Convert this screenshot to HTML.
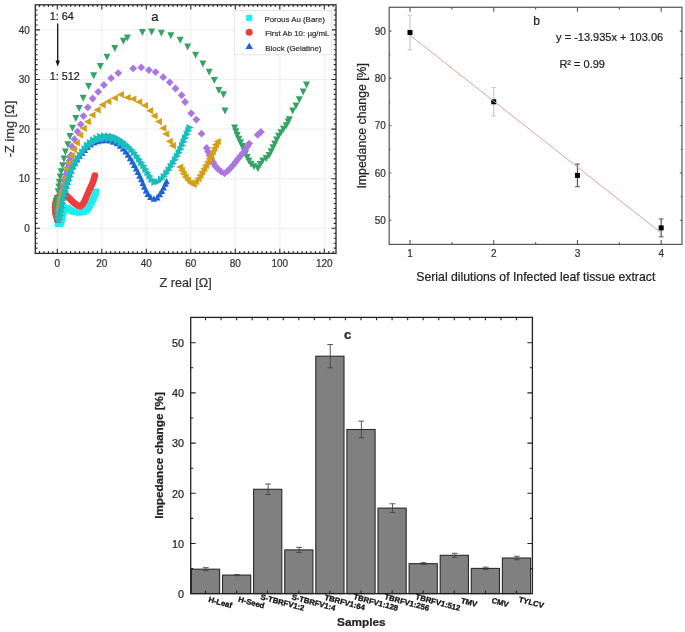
<!DOCTYPE html>
<html><head><meta charset="utf-8"><style>
html,body{margin:0;padding:0;background:#fff;}
body{width:685px;height:632px;overflow:hidden;}
svg{display:block;font-family:"Liberation Sans", sans-serif;filter:blur(0.5px);}
</style></head><body>
<svg width="685" height="632" viewBox="0 0 685 632">
<rect width="685" height="632" fill="#fff"/>
<line x1="57.3" y1="4.8" x2="57.3" y2="253.4" stroke="#ebebeb" stroke-width="0.8" />
<line x1="101.8" y1="4.8" x2="101.8" y2="253.4" stroke="#ebebeb" stroke-width="0.8" />
<line x1="146.3" y1="4.8" x2="146.3" y2="253.4" stroke="#ebebeb" stroke-width="0.8" />
<line x1="190.8" y1="4.8" x2="190.8" y2="253.4" stroke="#ebebeb" stroke-width="0.8" />
<line x1="235.3" y1="4.8" x2="235.3" y2="253.4" stroke="#ebebeb" stroke-width="0.8" />
<line x1="279.8" y1="4.8" x2="279.8" y2="253.4" stroke="#ebebeb" stroke-width="0.8" />
<line x1="324.3" y1="4.8" x2="324.3" y2="253.4" stroke="#ebebeb" stroke-width="0.8" />
<line x1="35.3" y1="228.3" x2="336" y2="228.3" stroke="#ebebeb" stroke-width="0.8" />
<line x1="35.3" y1="178.7" x2="336" y2="178.7" stroke="#ebebeb" stroke-width="0.8" />
<line x1="35.3" y1="129.1" x2="336" y2="129.1" stroke="#ebebeb" stroke-width="0.8" />
<line x1="35.3" y1="79.5" x2="336" y2="79.5" stroke="#ebebeb" stroke-width="0.8" />
<line x1="35.3" y1="29.9" x2="336" y2="29.9" stroke="#ebebeb" stroke-width="0.8" />
<g fill="#1ceeee"><rect x="54.7" y="220.9" width="6.2" height="6.2"/><rect x="57.2" y="220.9" width="6.2" height="6.2"/><rect x="58.13" y="218.95" width="6.2" height="6.2"/><rect x="58.66" y="216.5" width="6.2" height="6.2"/><rect x="59.23" y="214.07" width="6.2" height="6.2"/><rect x="59.84" y="211.64" width="6.2" height="6.2"/><rect x="60.47" y="209.23" width="6.2" height="6.2"/><rect x="61.4" y="206.91" width="6.2" height="6.2"/><rect x="62.33" y="204.58" width="6.2" height="6.2"/><rect x="64.58" y="205.13" width="6.2" height="6.2"/><rect x="66.66" y="206.45" width="6.2" height="6.2"/><rect x="68.62" y="207.98" width="6.2" height="6.2"/><rect x="70.99" y="208.79" width="6.2" height="6.2"/><rect x="73.43" y="209.22" width="6.2" height="6.2"/><rect x="75.92" y="209.42" width="6.2" height="6.2"/><rect x="78.39" y="209.2" width="6.2" height="6.2"/><rect x="80.84" y="208.71" width="6.2" height="6.2"/><rect x="82.92" y="207.51" width="6.2" height="6.2"/><rect x="84.71" y="205.77" width="6.2" height="6.2"/><rect x="86.1" y="203.72" width="6.2" height="6.2"/><rect x="87.34" y="201.55" width="6.2" height="6.2"/><rect x="88.55" y="199.36" width="6.2" height="6.2"/><rect x="89.59" y="197.09" width="6.2" height="6.2"/><rect x="90.62" y="194.81" width="6.2" height="6.2"/><rect x="91.61" y="192.51" width="6.2" height="6.2"/><rect x="92.54" y="190.2" width="6.2" height="6.2"/><rect x="92.9" y="188.5" width="6.2" height="6.2"/></g>
<g fill="#ec3d3d"><circle cx="57.2" cy="219.5" r="3.3"/><circle cx="56.5" cy="217.1" r="3.3"/><circle cx="55.8" cy="214.7" r="3.3"/><circle cx="55.27" cy="212.27" r="3.3"/><circle cx="55.16" cy="209.77" r="3.3"/><circle cx="55.05" cy="207.28" r="3.3"/><circle cx="55.24" cy="204.8" r="3.3"/><circle cx="55.73" cy="202.35" r="3.3"/><circle cx="56.26" cy="199.92" r="3.3"/><circle cx="57.77" cy="197.92" r="3.3"/><circle cx="59.44" cy="196.16" r="3.3"/><circle cx="61.82" cy="195.38" r="3.3"/><circle cx="64.22" cy="195.3" r="3.3"/><circle cx="66.64" cy="195.91" r="3.3"/><circle cx="68.51" cy="197.51" r="3.3"/><circle cx="70.28" cy="199.28" r="3.3"/><circle cx="72.04" cy="201.04" r="3.3"/><circle cx="73.81" cy="202.81" r="3.3"/><circle cx="75.79" cy="204.33" r="3.3"/><circle cx="77.87" cy="205.67" r="3.3"/><circle cx="80.32" cy="206.16" r="3.3"/><circle cx="82.34" cy="204.8" r="3.3"/><circle cx="83.78" cy="202.82" r="3.3"/><circle cx="84.94" cy="200.61" r="3.3"/><circle cx="85.88" cy="198.29" r="3.3"/><circle cx="86.81" cy="195.97" r="3.3"/><circle cx="87.81" cy="193.68" r="3.3"/><circle cx="88.81" cy="191.39" r="3.3"/><circle cx="89.85" cy="189.11" r="3.3"/><circle cx="90.91" cy="186.85" r="3.3"/><circle cx="91.91" cy="184.56" r="3.3"/><circle cx="92.83" cy="182.23" r="3.3"/><circle cx="93.66" cy="179.88" r="3.3"/><circle cx="94.34" cy="177.47" r="3.3"/><circle cx="94.9" cy="175.5" r="3.3"/></g>
<g fill="#1f62d8"><path d="M57.8 216L61.1 222.6L54.5 222.6Z"/><path d="M58.61 212.08L61.91 218.68L55.31 218.68Z"/><path d="M59.4 208.16L62.7 214.76L56.1 214.76Z"/><path d="M60.11 204.22L63.41 210.82L56.81 210.82Z"/><path d="M60.81 200.29L64.11 206.89L57.51 206.89Z"/><path d="M61.6 196.37L64.9 202.97L58.3 202.97Z"/><path d="M62.43 192.45L65.73 199.05L59.13 199.05Z"/><path d="M63.5 188.61L66.8 195.21L60.2 195.21Z"/><path d="M64.73 184.8L68.03 191.4L61.43 191.4Z"/><path d="M65.89 180.97L69.19 187.57L62.59 187.57Z"/><path d="M67.05 177.14L70.35 183.74L63.75 183.74Z"/><path d="M68.2 173.31L71.5 179.91L64.9 179.91Z"/><path d="M69.36 169.48L72.66 176.08L66.06 176.08Z"/><path d="M70.53 165.66L73.83 172.26L67.23 172.26Z"/><path d="M72.69 162.3L75.99 168.9L69.39 168.9Z"/><path d="M74.88 158.95L78.18 165.55L71.58 165.55Z"/><path d="M77.15 155.66L80.45 162.26L73.85 162.26Z"/><path d="M79.54 152.45L82.84 159.05L76.24 159.05Z"/><path d="M82.1 149.38L85.4 155.98L78.8 155.98Z"/><path d="M84.76 146.4L88.06 153L81.46 153Z"/><path d="M87.54 143.52L90.84 150.12L84.24 150.12Z"/><path d="M90.6 140.99L93.9 147.59L87.3 147.59Z"/><path d="M93.98 138.85L97.28 145.45L90.68 145.45Z"/><path d="M97.73 137.61L101.03 144.21L94.43 144.21Z"/><path d="M101.65 136.82L104.95 143.42L98.35 143.42Z"/><path d="M105.62 136.35L108.92 142.95L102.32 142.95Z"/><path d="M109.57 136.88L112.87 143.48L106.27 143.48Z"/><path d="M113.36 138.05L116.66 144.65L110.06 144.65Z"/><path d="M117 139.7L120.3 146.3L113.7 146.3Z"/><path d="M120.16 142.16L123.46 148.76L116.86 148.76Z"/><path d="M123.03 144.92L126.33 151.52L119.73 151.52Z"/><path d="M125.66 147.93L128.96 154.53L122.36 154.53Z"/><path d="M127.95 151.21L131.25 157.81L124.65 157.81Z"/><path d="M130.17 154.54L133.47 161.14L126.87 161.14Z"/><path d="M132.32 157.91L135.62 164.51L129.02 164.51Z"/><path d="M134.25 161.41L137.55 168.01L130.95 168.01Z"/><path d="M136.12 164.94L139.42 171.54L132.82 171.54Z"/><path d="M137.91 168.52L141.21 175.12L134.61 175.12Z"/><path d="M139.62 172.14L142.92 178.74L136.32 178.74Z"/><path d="M141.3 175.77L144.6 182.37L138 182.37Z"/><path d="M142.81 179.47L146.11 186.07L139.51 186.07Z"/><path d="M144.29 183.19L147.59 189.79L140.99 189.79Z"/><path d="M146.04 186.78L149.34 193.38L142.74 193.38Z"/><path d="M147.83 190.36L151.13 196.96L144.53 196.96Z"/><path d="M150.45 193.36L153.75 199.96L147.15 199.96Z"/><path d="M153.86 195.17L157.16 201.77L150.56 201.77Z"/><path d="M157.23 193.79L160.53 200.39L153.93 200.39Z"/><path d="M159.76 190.73L163.06 197.33L156.46 197.33Z"/><path d="M161.86 187.33L165.16 193.93L158.56 193.93Z"/><path d="M163.75 183.81L167.05 190.41L160.45 190.41Z"/><path d="M165.44 180.18L168.74 186.78L162.14 186.78Z"/><path d="M166.5 177.7L169.8 184.3L163.2 184.3Z"/></g>
<g fill="#34a464"><path d="M53.8 216L60.8 216L57.3 223Z"/><path d="M53.46 213.02L60.46 213.02L56.96 220.02Z"/><path d="M53.13 210.04L60.13 210.04L56.63 217.04Z"/><path d="M52.9 207.05L59.9 207.05L56.4 214.05Z"/><path d="M52.9 204.05L59.9 204.05L56.4 211.05Z"/><path d="M52.9 201.05L59.9 201.05L56.4 208.05Z"/><path d="M53.19 198.07L60.19 198.07L56.69 205.07Z"/><path d="M53.63 195.11L60.63 195.11L57.13 202.11Z"/><path d="M54.6 188.3L61.6 188.3L58.1 195.3Z"/><path d="M55.3 183.5L62.3 183.5L58.8 190.5Z"/><path d="M55.9 178.8L62.9 178.8L59.4 185.8Z"/><path d="M56.7 173.6L63.7 173.6L60.2 180.6Z"/><path d="M57.6 168.3L64.6 168.3L61.1 175.3Z"/><path d="M59.1 162.2L66.1 162.2L62.6 169.2Z"/><path d="M60.5 155.5L67.5 155.5L64 162.5Z"/><path d="M61.9 148.4L68.9 148.4L65.4 155.4Z"/><path d="M64.3 141.3L71.3 141.3L67.8 148.3Z"/><path d="M66.4 133L73.4 133L69.9 140Z"/><path d="M69 124.8L76 124.8L72.5 131.8Z"/><path d="M72.3 115.1L79.3 115.1L75.8 122.1Z"/><path d="M75.6 104.9L82.6 104.9L79.1 111.9Z"/><path d="M79.7 94.7L86.7 94.7L83.2 101.7Z"/><path d="M85.1 83L92.1 83L88.6 90Z"/><path d="M90.2 72.2L97.2 72.2L93.7 79.2Z"/><path d="M96.8 63L103.8 63L100.3 70Z"/><path d="M103.5 53.8L110.5 53.8L107 60.8Z"/><path d="M111.3 45L118.3 45L114.8 52Z"/><path d="M119.9 37.8L126.9 37.8L123.4 44.8Z"/><path d="M123.9 34.4L130.9 34.4L127.4 41.4Z"/><path d="M138.9 29L145.9 29L142.4 36Z"/><path d="M148.1 28.5L155.1 28.5L151.6 35.5Z"/><path d="M157.9 29.7L164.9 29.7L161.4 36.7Z"/><path d="M167.3 32.3L174.3 32.3L170.8 39.3Z"/><path d="M176.7 36.8L183.7 36.8L180.2 43.8Z"/><path d="M184.2 43.6L191.2 43.6L187.7 50.6Z"/><path d="M192.1 51.7L199.1 51.7L195.6 58.7Z"/><path d="M199.4 60.5L206.4 60.5L202.9 67.5Z"/><path d="M205.7 68.7L212.7 68.7L209.2 75.7Z"/><path d="M210.8 76.9L217.8 76.9L214.3 83.9Z"/><path d="M215.3 87.1L222.3 87.1L218.8 94.1Z"/><path d="M220 91.2L227 91.2L223.5 98.2Z"/><path d="M221.5 107.5L228.5 107.5L225 114.5Z"/><path d="M231.1 124.5L238.1 124.5L234.6 131.5Z"/><path d="M232.36 128.29L239.36 128.29L235.86 135.29Z"/><path d="M233.72 132.05L240.72 132.05L237.22 139.05Z"/><path d="M235.33 135.72L242.33 135.72L238.83 142.72Z"/><path d="M237.02 139.34L244.02 139.34L240.52 146.34Z"/><path d="M238.81 142.92L245.81 142.92L242.31 149.92Z"/><path d="M240.4 146.59L247.4 146.59L243.9 153.59Z"/><path d="M241.95 150.27L248.95 150.27L245.45 157.27Z"/><path d="M243.6 153.92L250.6 153.92L247.1 160.92Z"/><path d="M245.37 157.5L252.37 157.5L248.87 164.5Z"/><path d="M247.59 160.76L254.59 160.76L251.09 167.76Z"/><path d="M250.57 163.36L257.57 163.36L254.07 170.36Z"/><path d="M254.36 164.65L261.36 164.65L257.86 171.65Z"/><path d="M254.5 164.7L261.5 164.7L258 171.7Z"/><path d="M256.77 161.05L263.77 161.05L260.27 168.05Z"/><path d="M259.19 157.53L266.19 157.53L262.69 164.53Z"/><path d="M262.72 155.08L269.72 155.08L266.22 162.08Z"/><path d="M265.57 152.03L272.57 152.03L269.07 159.03Z"/><path d="M267.56 148.22L274.56 148.22L271.06 155.22Z"/><path d="M269.44 144.35L276.44 144.35L272.94 151.35Z"/><path d="M271.27 140.46L278.27 140.46L274.77 147.46Z"/><path d="M273.12 136.58L280.12 136.58L276.62 143.58Z"/><path d="M275.14 132.79L282.14 132.79L278.64 139.79Z"/><path d="M277.42 129.14L284.42 129.14L280.92 136.14Z"/><path d="M279.93 125.66L286.93 125.66L283.43 132.66Z"/><path d="M282.66 122.34L289.66 122.34L286.16 129.34Z"/><path d="M284.71 118.58L291.71 118.58L288.21 125.58Z"/><path d="M285.9 116.2L292.9 116.2L289.4 123.2Z"/><path d="M289.2 107.4L296.2 107.4L292.7 114.4Z"/><path d="M292.5 102.4L299.5 102.4L296 109.4Z"/><path d="M295.8 96.3L302.8 96.3L299.3 103.3Z"/><path d="M299.7 88.6L306.7 88.6L303.2 95.6Z"/><path d="M303 81.4L310 81.4L306.5 88.4Z"/></g>
<g fill="#ab76e2"><path d="M58.4 215.1L62.3 219L58.4 222.9L54.5 219Z"/><path d="M58.65 211.61L62.55 215.51L58.65 219.41L54.75 215.51Z"/><path d="M58.9 208.12L62.8 212.02L58.9 215.92L55 212.02Z"/><path d="M59.29 204.64L63.19 208.54L59.29 212.44L55.39 208.54Z"/><path d="M59.68 201.16L63.58 205.06L59.68 208.96L55.78 205.06Z"/><path d="M60.21 197.7L64.11 201.6L60.21 205.5L56.31 201.6Z"/><path d="M60.8 194.25L64.7 198.15L60.8 202.05L56.9 198.15Z"/><path d="M61.46 190.82L65.36 194.72L61.46 198.62L57.56 194.72Z"/><path d="M62.14 187.38L66.04 191.28L62.14 195.18L58.24 191.28Z"/><path d="M62.95 183.98L66.85 187.88L62.95 191.78L59.05 187.88Z"/><path d="M63.78 180.58L67.68 184.48L63.78 188.38L59.88 184.48Z"/><path d="M64.61 177.18L68.51 181.08L64.61 184.98L60.71 181.08Z"/><path d="M65.44 173.78L69.34 177.68L65.44 181.58L61.54 177.68Z"/><path d="M66.22 170.37L70.12 174.27L66.22 178.17L62.32 174.27Z"/><path d="M66.99 166.95L70.89 170.85L66.99 174.75L63.09 170.85Z"/><path d="M67.81 163.55L71.71 167.45L67.81 171.35L63.91 167.45Z"/><path d="M68.66 160.15L72.56 164.05L68.66 167.95L64.76 164.05Z"/><path d="M69.52 156.76L73.42 160.66L69.52 164.56L65.62 160.66Z"/><path d="M70.38 153.37L74.28 157.27L70.38 161.17L66.48 157.27Z"/><path d="M70.9 151.3L74.8 155.2L70.9 159.1L67 155.2Z"/><path d="M71.9 142.5L75.8 146.4L71.9 150.3L68 146.4Z"/><path d="M74.4 135.3L78.3 139.2L74.4 143.1L70.5 139.2Z"/><path d="M77.5 127.7L81.4 131.6L77.5 135.5L73.6 131.6Z"/><path d="M80.7 120.4L84.6 124.3L80.7 128.2L76.8 124.3Z"/><path d="M83.5 112.2L87.4 116.1L83.5 120L79.6 116.1Z"/><path d="M87.8 103.5L91.7 107.4L87.8 111.3L83.9 107.4Z"/><path d="M92.7 94.6L96.6 98.5L92.7 102.4L88.8 98.5Z"/><path d="M98.2 87.9L102.1 91.8L98.2 95.7L94.3 91.8Z"/><path d="M103.9 81.1L107.8 85L103.9 88.9L100 85Z"/><path d="M111.1 74.3L115 78.2L111.1 82.1L107.2 78.2Z"/><path d="M118.2 69.2L122.1 73.1L118.2 77L114.3 73.1Z"/><path d="M133.2 64.5L137.1 68.4L133.2 72.3L129.3 68.4Z"/><path d="M141.3 63.5L145.2 67.4L141.3 71.3L137.4 67.4Z"/><path d="M148.9 66.2L152.8 70.1L148.9 74L145 70.1Z"/><path d="M155.6 68.2L159.5 72.1L155.6 76L151.7 72.1Z"/><path d="M163.2 73.3L167.1 77.2L163.2 81.1L159.3 77.2Z"/><path d="M169.7 78.4L173.6 82.3L169.7 86.2L165.8 82.3Z"/><path d="M175.5 84.6L179.4 88.5L175.5 92.4L171.6 88.5Z"/><path d="M181.6 91.3L185.5 95.2L181.6 99.1L177.7 95.2Z"/><path d="M185.1 98.1L189 102L185.1 105.9L181.2 102Z"/><path d="M191.2 109.4L195.1 113.3L191.2 117.2L187.3 113.3Z"/><path d="M196.3 115.7L200.2 119.6L196.3 123.5L192.4 119.6Z"/><path d="M201.5 129.8L205.4 133.7L201.5 137.6L197.6 133.7Z"/><path d="M206.6 144.1L210.5 148L206.6 151.9L202.7 148Z"/><path d="M208.14 147.79L212.04 151.69L208.14 155.59L204.24 151.69Z"/><path d="M209.67 151.49L213.57 155.39L209.67 159.29L205.77 155.39Z"/><path d="M211.32 155.13L215.22 159.03L211.32 162.93L207.42 159.03Z"/><path d="M213.28 158.61L217.18 162.51L213.28 166.41L209.38 162.51Z"/><path d="M215.24 162.1L219.14 166L215.24 169.9L211.34 166Z"/><path d="M217.94 164.99L221.84 168.89L217.94 172.79L214.04 168.89Z"/><path d="M220.95 167.62L224.85 171.52L220.95 175.42L217.05 171.52Z"/><path d="M224.51 169.45L228.41 173.35L224.51 177.25L220.61 173.35Z"/><path d="M227.44 167.26L231.34 171.16L227.44 175.06L223.54 171.16Z"/><path d="M230.26 164.44L234.16 168.34L230.26 172.24L226.36 168.34Z"/><path d="M232.93 161.46L236.83 165.36L232.93 169.26L229.03 165.36Z"/><path d="M235.41 158.33L239.31 162.23L235.41 166.13L231.51 162.23Z"/><path d="M237.91 155.2L241.81 159.1L237.91 163L234.01 159.1Z"/><path d="M240.42 152.09L244.32 155.99L240.42 159.89L236.52 155.99Z"/><path d="M242.93 148.98L246.83 152.88L242.93 156.78L239.03 152.88Z"/><path d="M245.21 145.69L249.11 149.59L245.21 153.49L241.31 149.59Z"/><path d="M247.43 142.36L251.33 146.26L247.43 150.16L243.53 146.26Z"/><path d="M249.2 139.7L253.1 143.6L249.2 147.5L245.3 143.6Z"/><path d="M257.7 130.9L261.6 134.8L257.7 138.7L253.8 134.8Z"/><path d="M260.9 128L264.8 131.9L260.9 135.8L257 131.9Z"/></g>
<g fill="#d49e17"><path d="M61.8 215.4L61.8 222.6L54.6 219Z"/><path d="M61.94 212.2L61.94 219.4L54.74 215.8Z"/><path d="M62.07 209.01L62.07 216.21L54.87 212.61Z"/><path d="M62.33 205.82L62.33 213.02L55.13 209.42Z"/><path d="M62.61 202.63L62.61 209.83L55.41 206.23Z"/><path d="M62.95 199.45L62.95 206.65L55.75 203.05Z"/><path d="M63.45 196.29L63.45 203.49L56.25 199.89Z"/><path d="M63.96 193.13L63.96 200.33L56.76 196.73Z"/><path d="M64.63 190L64.63 197.2L57.43 193.6Z"/><path d="M65.3 186.9L65.3 194.1L58.1 190.5Z"/><path d="M66.8 180.4L66.8 187.6L59.6 184Z"/><path d="M68.5 174.4L68.5 181.6L61.3 178Z"/><path d="M70.4 165.8L70.4 173L63.2 169.4Z"/><path d="M72.3 159.2L72.3 166.4L65.1 162.8Z"/><path d="M74.7 152.1L74.7 159.3L67.5 155.7Z"/><path d="M77.1 145.9L77.1 153.1L69.9 149.5Z"/><path d="M79.9 139.2L79.9 146.4L72.7 142.8Z"/><path d="M83.2 131.4L83.2 138.6L76 135Z"/><path d="M86.8 124.7L86.8 131.9L79.6 128.3Z"/><path d="M90.9 118.1L90.9 125.3L83.7 121.7Z"/><path d="M95.5 111.4L95.5 118.6L88.3 115Z"/><path d="M100.6 106.3L100.6 113.5L93.4 109.9Z"/><path d="M105.8 101.2L105.8 108.4L98.6 104.8Z"/><path d="M111.4 97.9L111.4 105.1L104.2 101.5Z"/><path d="M117.9 94.4L117.9 101.6L110.7 98Z"/><path d="M124 91L124 98.2L116.8 94.6Z"/><path d="M130.6 93.9L130.6 101.1L123.4 97.5Z"/><path d="M136.4 95.4L136.4 102.6L129.2 99Z"/><path d="M142.3 98.3L142.3 105.5L135.1 101.9Z"/><path d="M148.1 101.9L148.1 109.1L140.9 105.5Z"/><path d="M153.2 107.1L153.2 114.3L146 110.7Z"/><path d="M157.6 112.2L157.6 119.4L150.4 115.8Z"/><path d="M162 118L162 125.2L154.8 121.6Z"/><path d="M166.4 124.6L166.4 131.8L159.2 128.2Z"/><path d="M169.3 130.4L169.3 137.6L162.1 134Z"/><path d="M172.9 137.7L172.9 144.9L165.7 141.3Z"/><path d="M175.9 142.1L175.9 149.3L168.7 145.7Z"/><path d="M183.3 163.4L183.3 170.6L176.1 167Z"/><path d="M185.03 166.78L185.03 173.98L177.83 170.38Z"/><path d="M186.76 170.17L186.76 177.37L179.56 173.77Z"/><path d="M188.73 173.39L188.73 180.59L181.53 176.99Z"/><path d="M191.07 176.39L191.07 183.59L183.87 179.99Z"/><path d="M193.63 179.15L193.63 186.35L186.43 182.75Z"/><path d="M196.75 180.91L196.75 188.11L189.55 184.51Z"/><path d="M199.15 177.96L199.15 185.16L191.95 181.56Z"/><path d="M201.54 175L201.54 182.2L194.34 178.6Z"/><path d="M203.46 171.73L203.46 178.93L196.26 175.33Z"/><path d="M205.35 168.43L205.35 175.63L198.15 172.03Z"/><path d="M207.23 165.13L207.23 172.33L200.03 168.73Z"/><path d="M209.09 161.82L209.09 169.02L201.89 165.42Z"/><path d="M210.95 158.5L210.95 165.7L203.75 162.1Z"/><path d="M212.66 155.11L212.66 162.31L205.46 158.71Z"/><path d="M214.25 151.66L214.25 158.86L207.05 155.26Z"/><path d="M215.82 148.2L215.82 155.4L208.62 151.8Z"/><path d="M217.38 144.73L217.38 151.93L210.18 148.33Z"/><path d="M218.93 141.27L218.93 148.47L211.73 144.87Z"/><path d="M220.83 137.97L220.83 145.17L213.63 141.57Z"/></g>
<g fill="#1abdbd"><path d="M55.95 215.65L63.25 219.3L55.95 222.95Z"/><path d="M56.96 211.78L64.26 215.43L56.96 219.08Z"/><path d="M57.93 207.9L65.23 211.55L57.93 215.2Z"/><path d="M58.64 203.96L65.94 207.61L58.64 211.26Z"/><path d="M59.35 200.03L66.65 203.68L59.35 207.33Z"/><path d="M60.13 196.1L67.43 199.75L60.13 203.4Z"/><path d="M60.96 192.19L68.26 195.84L60.96 199.49Z"/><path d="M62.02 188.34L69.32 191.99L62.02 195.64Z"/><path d="M63.26 184.54L70.56 188.19L63.26 191.84Z"/><path d="M64.42 180.71L71.72 184.36L64.42 188.01Z"/><path d="M65.59 176.88L72.89 180.53L65.59 184.18Z"/><path d="M66.8 173.07L74.1 176.72L66.8 180.37Z"/><path d="M68.01 169.26L75.31 172.91L68.01 176.56Z"/><path d="M69.22 165.45L76.52 169.1L69.22 172.75Z"/><path d="M70.95 161.84L78.25 165.49L70.95 169.14Z"/><path d="M72.71 158.25L80.01 161.9L72.71 165.55Z"/><path d="M74.76 154.82L82.06 158.47L74.76 162.12Z"/><path d="M76.87 151.42L84.17 155.07L76.87 158.72Z"/><path d="M79.2 148.17L86.5 151.82L79.2 155.47Z"/><path d="M81.58 144.96L88.88 148.61L81.58 152.26Z"/><path d="M84.11 141.86L91.41 145.51L84.11 149.16Z"/><path d="M86.75 138.88L94.05 142.53L86.75 146.18Z"/><path d="M89.9 136.4L97.2 140.05L89.9 143.7Z"/><path d="M93.35 134.42L100.65 138.07L93.35 141.72Z"/><path d="M97 132.85L104.3 136.5L97 140.15Z"/><path d="M100.95 132.21L108.25 135.86L100.95 139.51Z"/><path d="M104.94 132.15L112.24 135.8L104.94 139.45Z"/><path d="M108.88 132.7L116.18 136.35L108.88 140Z"/><path d="M112.69 133.82L119.99 137.47L112.69 141.12Z"/><path d="M116.18 135.78L123.48 139.43L116.18 143.08Z"/><path d="M119.43 138.1L126.73 141.75L119.43 145.4Z"/><path d="M122.52 140.64L129.82 144.29L122.52 147.94Z"/><path d="M125.44 143.37L132.74 147.02L125.44 150.67Z"/><path d="M128.26 146.2L135.56 149.85L128.26 153.5Z"/><path d="M130.88 149.22L138.18 152.87L130.88 156.52Z"/><path d="M133.5 152.24L140.8 155.89L133.5 159.54Z"/><path d="M135.78 155.53L143.08 159.18L135.78 162.83Z"/><path d="M138.01 158.85L145.31 162.5L138.01 166.15Z"/><path d="M140.19 162.2L147.49 165.85L140.19 169.5Z"/><path d="M142.31 165.59L149.61 169.24L142.31 172.89Z"/><path d="M144.42 168.99L151.72 172.64L144.42 176.29Z"/><path d="M146.43 172.44L153.73 176.09L146.43 179.74Z"/><path d="M148.43 175.91L155.73 179.56L148.43 183.21Z"/><path d="M151.26 178.61L158.56 182.26L151.26 185.91Z"/><path d="M154.88 178.03L162.18 181.68L154.88 185.33Z"/><path d="M157.98 175.55L165.28 179.2L157.98 182.85Z"/><path d="M160.7 172.63L168 176.28L160.7 179.93Z"/><path d="M163.17 169.49L170.47 173.14L163.17 176.79Z"/><path d="M165.53 166.26L172.83 169.91L165.53 173.56Z"/><path d="M167.65 162.87L174.95 166.52L167.65 170.17Z"/><path d="M169.77 159.48L177.07 163.13L169.77 166.78Z"/><path d="M171.76 156.01L179.06 159.66L171.76 163.31Z"/><path d="M173.75 152.54L181.05 156.19L173.75 159.84Z"/><path d="M175.57 148.98L182.87 152.63L175.57 156.28Z"/><path d="M177.34 145.39L184.64 149.04L177.34 152.69Z"/><path d="M178.99 141.75L186.29 145.4L178.99 149.05Z"/><path d="M180.47 138.04L187.77 141.69L180.47 145.34Z"/><path d="M182.03 134.36L189.33 138.01L182.03 141.66Z"/><path d="M183.68 130.71L190.98 134.36L183.68 138.01Z"/><path d="M185.16 127L192.46 130.65L185.16 134.3Z"/><path d="M186.35 123.95L193.65 127.6L186.35 131.25Z"/><path d="M84.35 142.35L91.65 146L84.35 149.65Z"/><path d="M88.04 139.77L95.34 143.42L88.04 147.07Z"/><path d="M91.99 137.66L99.29 141.31L91.99 144.96Z"/><path d="M96.15 135.99L103.45 139.64L96.15 143.29Z"/><path d="M100.56 135.11L107.86 138.76L100.56 142.41Z"/><path d="M105.05 135.07L112.35 138.72L105.05 142.37Z"/><path d="M109.47 135.73L116.77 139.38L109.47 143.03Z"/><path d="M113.7 137.16L121 140.81L113.7 144.46Z"/><path d="M117.54 139.5L124.84 143.15L117.54 146.8Z"/><path d="M121.06 142.32L128.36 145.97L121.06 149.62Z"/></g>
<rect x="35.3" y="4.8" width="300.7" height="248.6" fill="none" stroke="#2a2a2a" stroke-width="1.3"/>
<path d="M39.5 253.4v-2.3M39.5 4.8v2.3M43.95 253.4v-2.3M43.95 4.8v2.3M48.4 253.4v-2.3M48.4 4.8v2.3M52.85 253.4v-2.3M52.85 4.8v2.3M57.3 253.4v-4.6M57.3 4.8v4.6M61.75 253.4v-2.3M61.75 4.8v2.3M66.2 253.4v-2.3M66.2 4.8v2.3M70.65 253.4v-2.3M70.65 4.8v2.3M75.1 253.4v-2.3M75.1 4.8v2.3M79.55 253.4v-2.3M79.55 4.8v2.3M84 253.4v-2.3M84 4.8v2.3M88.45 253.4v-2.3M88.45 4.8v2.3M92.9 253.4v-2.3M92.9 4.8v2.3M97.35 253.4v-2.3M97.35 4.8v2.3M101.8 253.4v-4.6M101.8 4.8v4.6M106.25 253.4v-2.3M106.25 4.8v2.3M110.7 253.4v-2.3M110.7 4.8v2.3M115.15 253.4v-2.3M115.15 4.8v2.3M119.6 253.4v-2.3M119.6 4.8v2.3M124.05 253.4v-2.3M124.05 4.8v2.3M128.5 253.4v-2.3M128.5 4.8v2.3M132.95 253.4v-2.3M132.95 4.8v2.3M137.4 253.4v-2.3M137.4 4.8v2.3M141.85 253.4v-2.3M141.85 4.8v2.3M146.3 253.4v-4.6M146.3 4.8v4.6M150.75 253.4v-2.3M150.75 4.8v2.3M155.2 253.4v-2.3M155.2 4.8v2.3M159.65 253.4v-2.3M159.65 4.8v2.3M164.1 253.4v-2.3M164.1 4.8v2.3M168.55 253.4v-2.3M168.55 4.8v2.3M173 253.4v-2.3M173 4.8v2.3M177.45 253.4v-2.3M177.45 4.8v2.3M181.9 253.4v-2.3M181.9 4.8v2.3M186.35 253.4v-2.3M186.35 4.8v2.3M190.8 253.4v-4.6M190.8 4.8v4.6M195.25 253.4v-2.3M195.25 4.8v2.3M199.7 253.4v-2.3M199.7 4.8v2.3M204.15 253.4v-2.3M204.15 4.8v2.3M208.6 253.4v-2.3M208.6 4.8v2.3M213.05 253.4v-2.3M213.05 4.8v2.3M217.5 253.4v-2.3M217.5 4.8v2.3M221.95 253.4v-2.3M221.95 4.8v2.3M226.4 253.4v-2.3M226.4 4.8v2.3M230.85 253.4v-2.3M230.85 4.8v2.3M235.3 253.4v-4.6M235.3 4.8v4.6M239.75 253.4v-2.3M239.75 4.8v2.3M244.2 253.4v-2.3M244.2 4.8v2.3M248.65 253.4v-2.3M248.65 4.8v2.3M253.1 253.4v-2.3M253.1 4.8v2.3M257.55 253.4v-2.3M257.55 4.8v2.3M262 253.4v-2.3M262 4.8v2.3M266.45 253.4v-2.3M266.45 4.8v2.3M270.9 253.4v-2.3M270.9 4.8v2.3M275.35 253.4v-2.3M275.35 4.8v2.3M279.8 253.4v-4.6M279.8 4.8v4.6M284.25 253.4v-2.3M284.25 4.8v2.3M288.7 253.4v-2.3M288.7 4.8v2.3M293.15 253.4v-2.3M293.15 4.8v2.3M297.6 253.4v-2.3M297.6 4.8v2.3M302.05 253.4v-2.3M302.05 4.8v2.3M306.5 253.4v-2.3M306.5 4.8v2.3M310.95 253.4v-2.3M310.95 4.8v2.3M315.4 253.4v-2.3M315.4 4.8v2.3M319.85 253.4v-2.3M319.85 4.8v2.3M324.3 253.4v-4.6M324.3 4.8v4.6M328.75 253.4v-2.3M328.75 4.8v2.3M333.2 253.4v-2.3M333.2 4.8v2.3M35.3 248.14h2.3M336 248.14h-2.3M35.3 243.18h2.3M336 243.18h-2.3M35.3 238.22h2.3M336 238.22h-2.3M35.3 233.26h2.3M336 233.26h-2.3M35.3 228.3h4.6M336 228.3h-4.6M35.3 223.34h2.3M336 223.34h-2.3M35.3 218.38h2.3M336 218.38h-2.3M35.3 213.42h2.3M336 213.42h-2.3M35.3 208.46h2.3M336 208.46h-2.3M35.3 203.5h2.3M336 203.5h-2.3M35.3 198.54h2.3M336 198.54h-2.3M35.3 193.58h2.3M336 193.58h-2.3M35.3 188.62h2.3M336 188.62h-2.3M35.3 183.66h2.3M336 183.66h-2.3M35.3 178.7h4.6M336 178.7h-4.6M35.3 173.74h2.3M336 173.74h-2.3M35.3 168.78h2.3M336 168.78h-2.3M35.3 163.82h2.3M336 163.82h-2.3M35.3 158.86h2.3M336 158.86h-2.3M35.3 153.9h2.3M336 153.9h-2.3M35.3 148.94h2.3M336 148.94h-2.3M35.3 143.98h2.3M336 143.98h-2.3M35.3 139.02h2.3M336 139.02h-2.3M35.3 134.06h2.3M336 134.06h-2.3M35.3 129.1h4.6M336 129.1h-4.6M35.3 124.14h2.3M336 124.14h-2.3M35.3 119.18h2.3M336 119.18h-2.3M35.3 114.22h2.3M336 114.22h-2.3M35.3 109.26h2.3M336 109.26h-2.3M35.3 104.3h2.3M336 104.3h-2.3M35.3 99.34h2.3M336 99.34h-2.3M35.3 94.38h2.3M336 94.38h-2.3M35.3 89.42h2.3M336 89.42h-2.3M35.3 84.46h2.3M336 84.46h-2.3M35.3 79.5h4.6M336 79.5h-4.6M35.3 74.54h2.3M336 74.54h-2.3M35.3 69.58h2.3M336 69.58h-2.3M35.3 64.62h2.3M336 64.62h-2.3M35.3 59.66h2.3M336 59.66h-2.3M35.3 54.7h2.3M336 54.7h-2.3M35.3 49.74h2.3M336 49.74h-2.3M35.3 44.78h2.3M336 44.78h-2.3M35.3 39.82h2.3M336 39.82h-2.3M35.3 34.86h2.3M336 34.86h-2.3M35.3 29.9h4.6M336 29.9h-4.6M35.3 24.94h2.3M336 24.94h-2.3M35.3 19.98h2.3M336 19.98h-2.3M35.3 15.02h2.3M336 15.02h-2.3M35.3 10.06h2.3M336 10.06h-2.3" stroke="#2a2a2a" stroke-width="1.1" fill="none"/>
<text x="57.3" y="267.2" font-size="10" text-anchor="middle" fill="#333" stroke="#333" stroke-width="0.22" font-weight="normal" >0</text>
<text x="101.8" y="267.2" font-size="10" text-anchor="middle" fill="#333" stroke="#333" stroke-width="0.22" font-weight="normal" >20</text>
<text x="146.3" y="267.2" font-size="10" text-anchor="middle" fill="#333" stroke="#333" stroke-width="0.22" font-weight="normal" >40</text>
<text x="190.8" y="267.2" font-size="10" text-anchor="middle" fill="#333" stroke="#333" stroke-width="0.22" font-weight="normal" >60</text>
<text x="235.3" y="267.2" font-size="10" text-anchor="middle" fill="#333" stroke="#333" stroke-width="0.22" font-weight="normal" >80</text>
<text x="279.8" y="267.2" font-size="10" text-anchor="middle" fill="#333" stroke="#333" stroke-width="0.22" font-weight="normal" >100</text>
<text x="324.3" y="267.2" font-size="10" text-anchor="middle" fill="#333" stroke="#333" stroke-width="0.22" font-weight="normal" >120</text>
<text x="29.8" y="231.9" font-size="10" text-anchor="end" fill="#333" stroke="#333" stroke-width="0.22" font-weight="normal" >0</text>
<text x="29.8" y="182.3" font-size="10" text-anchor="end" fill="#333" stroke="#333" stroke-width="0.22" font-weight="normal" >10</text>
<text x="29.8" y="132.7" font-size="10" text-anchor="end" fill="#333" stroke="#333" stroke-width="0.22" font-weight="normal" >20</text>
<text x="29.8" y="83.1" font-size="10" text-anchor="end" fill="#333" stroke="#333" stroke-width="0.22" font-weight="normal" >30</text>
<text x="29.8" y="33.5" font-size="10" text-anchor="end" fill="#333" stroke="#333" stroke-width="0.22" font-weight="normal" >40</text>
<text x="185.6" y="286.8" font-size="12.6" text-anchor="middle" fill="#333" stroke="#333" stroke-width="0.22" font-weight="normal" >Z real [&#937;]</text>
<text x="0" y="0" font-size="12.8" text-anchor="middle" fill="#333" stroke="#333" stroke-width="0.22" font-weight="normal" transform="translate(13.8 129) rotate(-90)">-Z img [&#937;]</text>
<text x="49.8" y="20.3" font-size="10.8" text-anchor="start" fill="#222" stroke="#222" stroke-width="0.22" font-weight="normal" >1: 64</text>
<text x="49.8" y="79.8" font-size="10.8" text-anchor="start" fill="#222" stroke="#222" stroke-width="0.22" font-weight="normal" >1: 512</text>
<line x1="57.7" y1="23.5" x2="57.7" y2="61.5" stroke="#111" stroke-width="1.3" />
<path d="M55.5 60.5L59.9 60.5L57.7 66.5Z" fill="#111"/>
<text x="154.8" y="21.2" font-size="13" text-anchor="middle" fill="#222" stroke="#222" stroke-width="0.22" font-weight="normal" >a</text>
<rect x="234.6" y="10.4" width="97" height="44.4" fill="#fff" stroke="#e0e0e0" stroke-width="0.8"/>
<rect x="246.2" y="14.9" width="6.1" height="6" fill="#1ceeee"/>
<circle cx="249.2" cy="32.3" r="3.5" fill="#ec3d3d"/>
<path d="M249.2 42.7L253.1 49L245.4 49Z" fill="#1f62d8"/>
<text x="264.4" y="21.6" font-size="7.9" text-anchor="start" fill="#333" stroke="#333" stroke-width="0.22" font-weight="normal" >Porous Au (Bare)</text>
<text x="265.3" y="35.9" font-size="7.9" text-anchor="start" fill="#333" stroke="#333" stroke-width="0.22" font-weight="normal" >First Ab 10: &#181;g/mL</text>
<text x="265.3" y="50.5" font-size="7.9" text-anchor="start" fill="#333" stroke="#333" stroke-width="0.22" font-weight="normal" >Block (Gelatine)</text>
<line x1="410" y1="15.25" x2="410" y2="49.78" stroke="#c8c8c8" stroke-width="1.2" />
<line x1="407.6" y1="15.25" x2="412.4" y2="15.25" stroke="#c8c8c8" stroke-width="1" />
<line x1="407.6" y1="49.78" x2="412.4" y2="49.78" stroke="#c8c8c8" stroke-width="1" />
<line x1="493.73" y1="87.58" x2="493.73" y2="115.96" stroke="#c8c8c8" stroke-width="1.2" />
<line x1="491.33" y1="87.58" x2="496.13" y2="87.58" stroke="#c8c8c8" stroke-width="1" />
<line x1="491.33" y1="115.96" x2="496.13" y2="115.96" stroke="#c8c8c8" stroke-width="1" />
<line x1="577.46" y1="164.01" x2="577.46" y2="186.72" stroke="#555" stroke-width="1.2" />
<line x1="575.06" y1="164.01" x2="579.86" y2="164.01" stroke="#555" stroke-width="1" />
<line x1="575.06" y1="186.72" x2="579.86" y2="186.72" stroke="#555" stroke-width="1" />
<line x1="661.19" y1="218.88" x2="661.19" y2="236.86" stroke="#555" stroke-width="1.2" />
<line x1="658.79" y1="218.88" x2="663.59" y2="218.88" stroke="#555" stroke-width="1" />
<line x1="658.79" y1="236.86" x2="663.59" y2="236.86" stroke="#555" stroke-width="1" />
<rect x="407.5" y="30.02" width="5" height="5" fill="#000"/>
<rect x="491.23" y="99.27" width="5" height="5" fill="#000"/>
<rect x="574.96" y="172.87" width="5" height="5" fill="#000"/>
<rect x="658.69" y="225.37" width="5" height="5" fill="#000"/>
<line x1="410" y1="35.24" x2="661.19" y2="232.98" stroke="#d9a2a2" stroke-width="1" />
<rect x="389.2" y="7.3" width="292.8" height="237.1" fill="none" stroke="#555" stroke-width="1.2"/>
<path d="M410 244.4v-4.5M410 7.3v4.5M451.87 244.4v-2.2M451.87 7.3v2.2M493.73 244.4v-4.5M493.73 7.3v4.5M535.6 244.4v-2.2M535.6 7.3v2.2M577.46 244.4v-4.5M577.46 7.3v4.5M619.33 244.4v-2.2M619.33 7.3v2.2M661.19 244.4v-4.5M661.19 7.3v4.5M703.06 244.4v-2.2M703.06 7.3v2.2M389.2 220.3h2.2M682 220.3h-2.2M389.2 196.65h1.2M682 196.65h-1.2M389.2 173h2.2M682 173h-2.2M389.2 149.35h1.2M682 149.35h-1.2M389.2 125.7h2.2M682 125.7h-2.2M389.2 102.05h1.2M682 102.05h-1.2M389.2 78.4h2.2M682 78.4h-2.2M389.2 54.75h1.2M682 54.75h-1.2M389.2 31.1h2.2M682 31.1h-2.2" stroke="#555" stroke-width="1.1" fill="none"/>
<text x="410" y="257.4" font-size="10" text-anchor="middle" fill="#333" stroke="#333" stroke-width="0.22" font-weight="normal" >1</text>
<text x="493.73" y="257.4" font-size="10" text-anchor="middle" fill="#333" stroke="#333" stroke-width="0.22" font-weight="normal" >2</text>
<text x="577.46" y="257.4" font-size="10" text-anchor="middle" fill="#333" stroke="#333" stroke-width="0.22" font-weight="normal" >3</text>
<text x="661.19" y="257.4" font-size="10" text-anchor="middle" fill="#333" stroke="#333" stroke-width="0.22" font-weight="normal" >4</text>
<text x="385.8" y="223.9" font-size="10" text-anchor="end" fill="#333" stroke="#333" stroke-width="0.22" font-weight="normal" >50</text>
<text x="385.8" y="176.6" font-size="10" text-anchor="end" fill="#333" stroke="#333" stroke-width="0.22" font-weight="normal" >60</text>
<text x="385.8" y="129.3" font-size="10" text-anchor="end" fill="#333" stroke="#333" stroke-width="0.22" font-weight="normal" >70</text>
<text x="385.8" y="82" font-size="10" text-anchor="end" fill="#333" stroke="#333" stroke-width="0.22" font-weight="normal" >80</text>
<text x="385.8" y="34.7" font-size="10" text-anchor="end" fill="#333" stroke="#333" stroke-width="0.22" font-weight="normal" >90</text>
<text x="535.8" y="281" font-size="12.25" text-anchor="middle" fill="#222" stroke="#222" stroke-width="0.22" font-weight="normal" >Serial dilutions of Infected leaf tissue extract</text>
<text x="0" y="0" font-size="12.27" text-anchor="middle" fill="#222" stroke="#222" stroke-width="0.22" font-weight="normal" transform="translate(366.3 125.8) rotate(-90)">Impedance change [%]</text>
<text x="533.2" y="24.5" font-size="12" text-anchor="start" fill="#222" stroke="#222" stroke-width="0.22" font-weight="normal" >b</text>
<text x="556.1" y="41.1" font-size="11" text-anchor="start" fill="#222" stroke="#222" stroke-width="0.22" font-weight="normal" >y = -13.935x + 103.06</text>
<text x="559.4" y="68" font-size="11" text-anchor="start" fill="#222" stroke="#222" stroke-width="0.22" font-weight="normal" >R&#178; = 0.99</text>
<rect x="191.4" y="569.2" width="28.2" height="24.5" fill="#808080" stroke="#2a2a2a" stroke-width="1.1"/>
<rect x="222.5" y="575.08" width="28.2" height="18.62" fill="#808080" stroke="#2a2a2a" stroke-width="1.1"/>
<rect x="253.6" y="489.28" width="28.2" height="104.42" fill="#808080" stroke="#2a2a2a" stroke-width="1.1"/>
<rect x="284.7" y="549.88" width="28.2" height="43.82" fill="#808080" stroke="#2a2a2a" stroke-width="1.1"/>
<rect x="315.8" y="356.2" width="28.2" height="237.5" fill="#808080" stroke="#2a2a2a" stroke-width="1.1"/>
<rect x="346.9" y="429.5" width="28.2" height="164.2" fill="#808080" stroke="#2a2a2a" stroke-width="1.1"/>
<rect x="378" y="508.11" width="28.2" height="85.59" fill="#808080" stroke="#2a2a2a" stroke-width="1.1"/>
<rect x="409.1" y="563.68" width="28.2" height="30.02" fill="#808080" stroke="#2a2a2a" stroke-width="1.1"/>
<rect x="440.2" y="555.3" width="28.2" height="38.4" fill="#808080" stroke="#2a2a2a" stroke-width="1.1"/>
<rect x="471.3" y="568.4" width="28.2" height="25.3" fill="#808080" stroke="#2a2a2a" stroke-width="1.1"/>
<rect x="502.4" y="558.01" width="28.2" height="35.69" fill="#808080" stroke="#2a2a2a" stroke-width="1.1"/>
<line x1="205.9" y1="567.7" x2="205.9" y2="570.71" stroke="#444" stroke-width="0.9" />
<line x1="202.9" y1="567.7" x2="208.7" y2="567.7" stroke="#444" stroke-width="0.9" />
<line x1="202.9" y1="570.71" x2="208.7" y2="570.71" stroke="#444" stroke-width="0.9" />
<line x1="237" y1="574.47" x2="237" y2="575.68" stroke="#444" stroke-width="0.9" />
<line x1="234" y1="574.47" x2="239.8" y2="574.47" stroke="#444" stroke-width="0.9" />
<line x1="234" y1="575.68" x2="239.8" y2="575.68" stroke="#444" stroke-width="0.9" />
<line x1="268.1" y1="484.01" x2="268.1" y2="494.56" stroke="#444" stroke-width="0.9" />
<line x1="265.1" y1="484.01" x2="270.9" y2="484.01" stroke="#444" stroke-width="0.9" />
<line x1="265.1" y1="494.56" x2="270.9" y2="494.56" stroke="#444" stroke-width="0.9" />
<line x1="299.2" y1="547.37" x2="299.2" y2="552.39" stroke="#444" stroke-width="0.9" />
<line x1="296.2" y1="547.37" x2="302" y2="547.37" stroke="#444" stroke-width="0.9" />
<line x1="296.2" y1="552.39" x2="302" y2="552.39" stroke="#444" stroke-width="0.9" />
<line x1="330.3" y1="344.56" x2="330.3" y2="367.85" stroke="#444" stroke-width="0.9" />
<line x1="327.3" y1="344.56" x2="333.1" y2="344.56" stroke="#444" stroke-width="0.9" />
<line x1="327.3" y1="367.85" x2="333.1" y2="367.85" stroke="#444" stroke-width="0.9" />
<line x1="361.4" y1="421.16" x2="361.4" y2="437.83" stroke="#444" stroke-width="0.9" />
<line x1="358.4" y1="421.16" x2="364.2" y2="421.16" stroke="#444" stroke-width="0.9" />
<line x1="358.4" y1="437.83" x2="364.2" y2="437.83" stroke="#444" stroke-width="0.9" />
<line x1="392.5" y1="503.79" x2="392.5" y2="512.43" stroke="#444" stroke-width="0.9" />
<line x1="389.5" y1="503.79" x2="395.3" y2="503.79" stroke="#444" stroke-width="0.9" />
<line x1="389.5" y1="512.43" x2="395.3" y2="512.43" stroke="#444" stroke-width="0.9" />
<line x1="423.6" y1="562.68" x2="423.6" y2="564.68" stroke="#444" stroke-width="0.9" />
<line x1="420.6" y1="562.68" x2="426.4" y2="562.68" stroke="#444" stroke-width="0.9" />
<line x1="420.6" y1="564.68" x2="426.4" y2="564.68" stroke="#444" stroke-width="0.9" />
<line x1="454.7" y1="553.29" x2="454.7" y2="557.31" stroke="#444" stroke-width="0.9" />
<line x1="451.7" y1="553.29" x2="457.5" y2="553.29" stroke="#444" stroke-width="0.9" />
<line x1="451.7" y1="557.31" x2="457.5" y2="557.31" stroke="#444" stroke-width="0.9" />
<line x1="485.8" y1="567.14" x2="485.8" y2="569.65" stroke="#444" stroke-width="0.9" />
<line x1="482.8" y1="567.14" x2="488.6" y2="567.14" stroke="#444" stroke-width="0.9" />
<line x1="482.8" y1="569.65" x2="488.6" y2="569.65" stroke="#444" stroke-width="0.9" />
<line x1="516.9" y1="556.25" x2="516.9" y2="559.76" stroke="#444" stroke-width="0.9" />
<line x1="513.9" y1="556.25" x2="519.7" y2="556.25" stroke="#444" stroke-width="0.9" />
<line x1="513.9" y1="559.76" x2="519.7" y2="559.76" stroke="#444" stroke-width="0.9" />
<rect x="190.7" y="317.4" width="341.7" height="276.2" fill="none" stroke="#222" stroke-width="1.3"/>
<path d="M205.5 317.4v2.8M205.5 593.6v-3M221.05 317.4v2.8M236.6 317.4v2.8M236.6 593.6v-3M252.15 317.4v2.8M267.7 317.4v2.8M267.7 593.6v-3M283.25 317.4v2.8M298.8 317.4v2.8M298.8 593.6v-3M314.35 317.4v2.8M329.9 317.4v2.8M329.9 593.6v-3M345.45 317.4v2.8M361 317.4v2.8M361 593.6v-3M376.55 317.4v2.8M392.1 317.4v2.8M392.1 593.6v-3M407.65 317.4v2.8M423.2 317.4v2.8M423.2 593.6v-3M438.75 317.4v2.8M454.3 317.4v2.8M454.3 593.6v-3M469.85 317.4v2.8M485.4 317.4v2.8M485.4 593.6v-3M500.95 317.4v2.8M516.5 317.4v2.8M516.5 593.6v-3M190.7 568.6h2.5M532.4 568.6h-2.5M190.7 543.5h5M532.4 543.5h-5M190.7 518.4h2.5M532.4 518.4h-2.5M190.7 493.3h5M532.4 493.3h-5M190.7 468.2h2.5M532.4 468.2h-2.5M190.7 443.1h5M532.4 443.1h-5M190.7 418h2.5M532.4 418h-2.5M190.7 392.9h5M532.4 392.9h-5M190.7 367.8h2.5M532.4 367.8h-2.5M190.7 342.7h5M532.4 342.7h-5" stroke="#222" stroke-width="1.1" fill="none"/>
<text x="184" y="597.9" font-size="10.8" text-anchor="end" fill="#222" stroke="#222" stroke-width="0.22" font-weight="normal" >0</text>
<text x="184" y="547.7" font-size="10.8" text-anchor="end" fill="#222" stroke="#222" stroke-width="0.22" font-weight="normal" >10</text>
<text x="184" y="497.5" font-size="10.8" text-anchor="end" fill="#222" stroke="#222" stroke-width="0.22" font-weight="normal" >20</text>
<text x="184" y="447.3" font-size="10.8" text-anchor="end" fill="#222" stroke="#222" stroke-width="0.22" font-weight="normal" >30</text>
<text x="184" y="397.1" font-size="10.8" text-anchor="end" fill="#222" stroke="#222" stroke-width="0.22" font-weight="normal" >40</text>
<text x="184" y="346.9" font-size="10.8" text-anchor="end" fill="#222" stroke="#222" stroke-width="0.22" font-weight="normal" >50</text>
<text x="0" y="0" font-size="7.8" font-weight="bold" text-anchor="middle" fill="#111" stroke="#111" stroke-width="0.3" transform="translate(220.3 602.4) rotate(15) translate(0 2.7)">H-Leaf</text>
<text x="0" y="0" font-size="7.8" font-weight="bold" text-anchor="middle" fill="#111" stroke="#111" stroke-width="0.3" transform="translate(251.4 602.4) rotate(15) translate(0 2.7)">H-Seed</text>
<text x="0" y="0" font-size="7.8" font-weight="bold" text-anchor="middle" fill="#111" stroke="#111" stroke-width="0.3" transform="translate(282.5 602.4) rotate(15) translate(0 2.7)">S-TBRFV1:2</text>
<text x="0" y="0" font-size="7.8" font-weight="bold" text-anchor="middle" fill="#111" stroke="#111" stroke-width="0.3" transform="translate(313.6 602.4) rotate(15) translate(0 2.7)">S-TBRFV1:4</text>
<text x="0" y="0" font-size="7.8" font-weight="bold" text-anchor="middle" fill="#111" stroke="#111" stroke-width="0.3" transform="translate(344.7 602.4) rotate(15) translate(0 2.7)">TBRFV1:64</text>
<text x="0" y="0" font-size="7.8" font-weight="bold" text-anchor="middle" fill="#111" stroke="#111" stroke-width="0.3" transform="translate(375.8 602.4) rotate(15) translate(0 2.7)">TBRFV1:128</text>
<text x="0" y="0" font-size="7.8" font-weight="bold" text-anchor="middle" fill="#111" stroke="#111" stroke-width="0.3" transform="translate(406.9 602.4) rotate(15) translate(0 2.7)">TBRFV1:256</text>
<text x="0" y="0" font-size="7.8" font-weight="bold" text-anchor="middle" fill="#111" stroke="#111" stroke-width="0.3" transform="translate(438 602.4) rotate(15) translate(0 2.7)">TBRFV1:512</text>
<text x="0" y="0" font-size="7.8" font-weight="bold" text-anchor="middle" fill="#111" stroke="#111" stroke-width="0.3" transform="translate(469.1 602.4) rotate(15) translate(0 2.7)">TMV</text>
<text x="0" y="0" font-size="7.8" font-weight="bold" text-anchor="middle" fill="#111" stroke="#111" stroke-width="0.3" transform="translate(500.2 602.4) rotate(15) translate(0 2.7)">CMV</text>
<text x="0" y="0" font-size="7.8" font-weight="bold" text-anchor="middle" fill="#111" stroke="#111" stroke-width="0.3" transform="translate(531.3 602.4) rotate(15) translate(0 2.7)">TYLCV</text>
<text x="361.3" y="626.1" font-size="11.8" text-anchor="middle" fill="#222" stroke="#222" stroke-width="0.22" font-weight="bold" >Samples</text>
<text x="0" y="0" font-size="11.7" text-anchor="middle" fill="#222" stroke="#222" stroke-width="0.22" font-weight="bold" transform="translate(163.1 455.5) rotate(-90)">Impedance change [%]</text>
<text x="347.5" y="339.4" font-size="13" text-anchor="middle" fill="#222" stroke="#222" stroke-width="0.22" font-weight="bold" >c</text>
</svg>
</body></html>
